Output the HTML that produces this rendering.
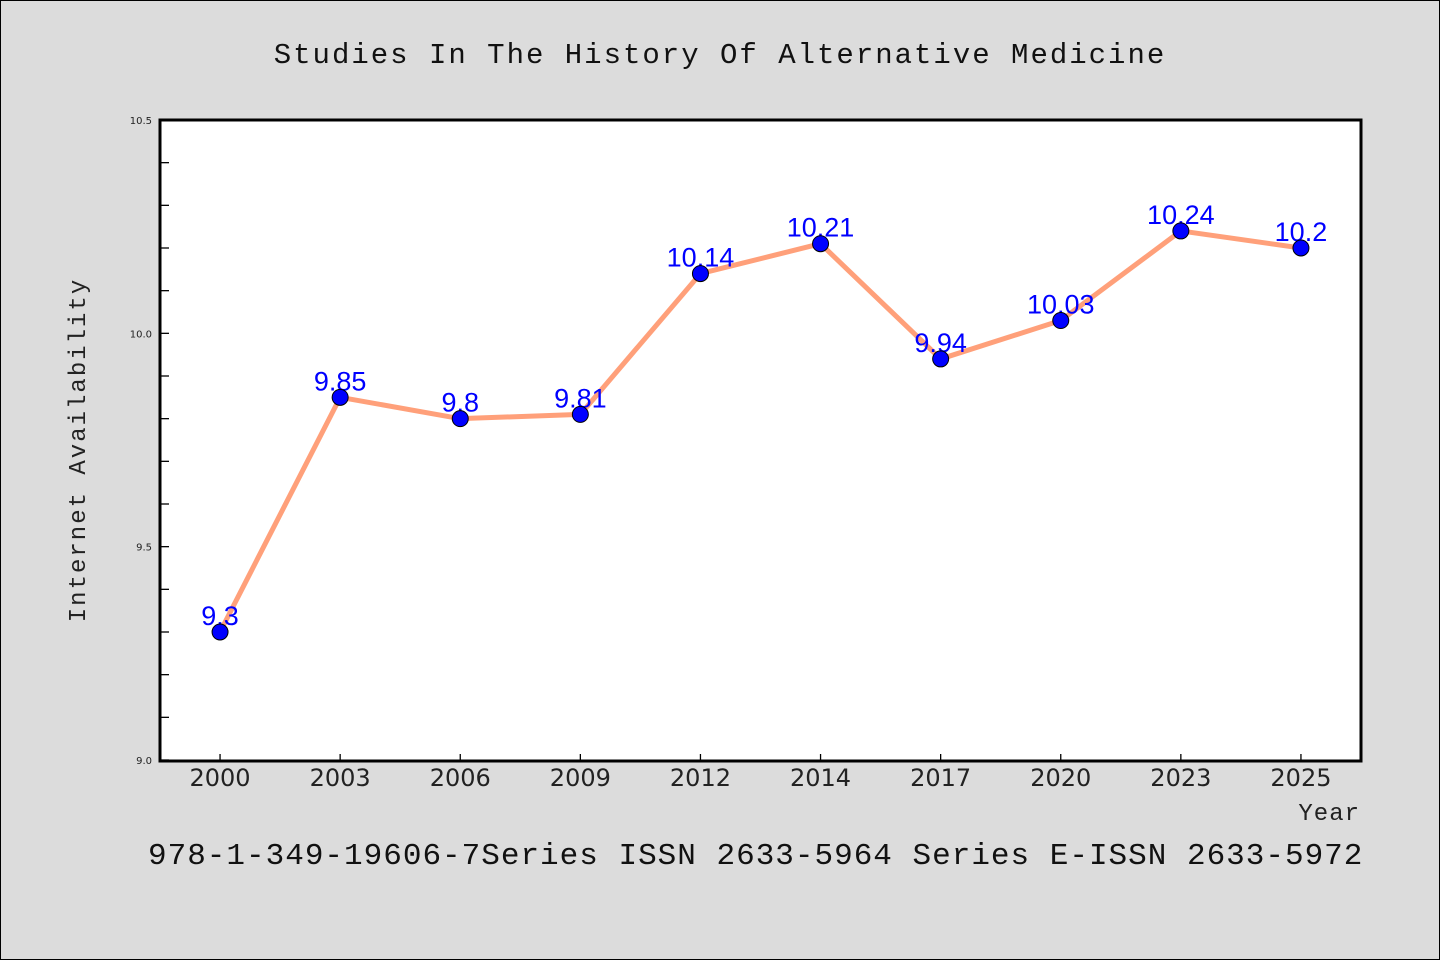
<!DOCTYPE html>
<html><head><meta charset="utf-8"><style>
html,body{margin:0;padding:0;background:#dcdcdc;}
svg{display:block;}
</style></head><body>
<svg id="chart" width="1440" height="960" xmlns="http://www.w3.org/2000/svg">
<rect x="0.5" y="0.5" width="1439" height="959" fill="#dcdcdc" stroke="#000" stroke-width="1"/>
<text x="720" y="63" text-anchor="middle" font-family="'WenQuanYi Zen Hei','Liberation Mono',monospace" font-size="29" letter-spacing="2" fill="#111">Studies In The History Of Alternative Medicine</text>
<rect x="160" y="120" width="1201" height="641" fill="#fff"/>
<g id="yticks"></g><g id="xticks"></g>
<g id="series"></g>
<rect x="160" y="120" width="1201" height="641" fill="none" stroke="#000" stroke-width="3"/>
<text transform="translate(85,450) rotate(-90)" text-anchor="middle" font-family="'WenQuanYi Zen Hei','Liberation Mono',monospace" font-size="24" letter-spacing="2" fill="#222">Internet Availability</text>
<text x="1360" y="820" text-anchor="end" font-family="'WenQuanYi Zen Hei','Liberation Mono',monospace" font-size="24" letter-spacing="1" fill="#222">Year</text>
<text x="148" y="864" font-family="'WenQuanYi Zen Hei','Liberation Mono',monospace" font-size="31" letter-spacing="1" fill="#111">978-1-349-19606-7Series ISSN 2633-5964 Series E-ISSN 2633-5972</text>
</svg>
<script>
const categories=["2000","2003","2006","2009","2012","2014","2017","2020","2023","2025"];
const values=[9.3,9.85,9.8,9.81,10.14,10.21,9.94,10.03,10.24,10.2];
const yTickLabels=["9.0","9.5","10.0","10.5"];
const yMin=9.0,yMax=10.5;
const NS="http://www.w3.org/2000/svg";
const L=160,R=1361,T=120,B=760;
const step=(R-L)/categories.length;
function xs(i){return L+step*(i+0.5);}
function ys(v){return B-(v-yMin)/(yMax-yMin)*(B-T);}
function mk(tag,attrs,parent){const e=document.createElementNS(NS,tag);for(const k in attrs)e.setAttribute(k,attrs[k]);parent.appendChild(e);return e;}
const yt=document.getElementById('yticks');
for(let k=0;k<=15;k++){const v=yMin+k*0.1;const y=ys(v);
 const t=mk('line',{x1:L,x2:L+9,y1:y,y2:y,stroke:'#000','stroke-width':1.3},yt);
 
 }
yTickLabels.forEach(s=>{const t=mk('text',{x:L-8,y:ys(parseFloat(s))+4,'text-anchor':'end','font-family':"'DejaVu Sans',sans-serif",'font-size':10,fill:'#222'},yt);t.textContent=s;
 
 });
const xt=document.getElementById('xticks');
categories.forEach((c,i)=>{const x=xs(i);
 const l=mk('line',{x1:x,x2:x,y1:B,y2:B-6,stroke:'#000','stroke-width':1.3},xt);
 
 
 const t=mk('text',{x:x,y:786,'text-anchor':'middle','font-family':"'WenQuanYi Zen Hei','DejaVu Sans',sans-serif",'font-size':24,fill:'#222'},xt);t.textContent=c;
 
 });
const sg=document.getElementById('series');
const pl=mk('polyline',{points:values.map((v,i)=>xs(i)+','+ys(v)).join(' '),fill:'none',stroke:'#ffa07a','stroke-width':5,'stroke-linejoin':'round'},sg);


values.forEach((v,i)=>{const t=mk('text',{x:xs(i),y:ys(v)-7,'text-anchor':'middle','font-family':"'Liberation Sans',sans-serif",'font-size':27,fill:'#0000ff'},sg);t.textContent=String(v);
 
 });
values.forEach((v,i)=>{const c=mk('circle',{cx:xs(i),cy:ys(v),r:8,fill:'#0000ff',stroke:'#000','stroke-width':1},sg);
 
 });
</script>
</body></html>
